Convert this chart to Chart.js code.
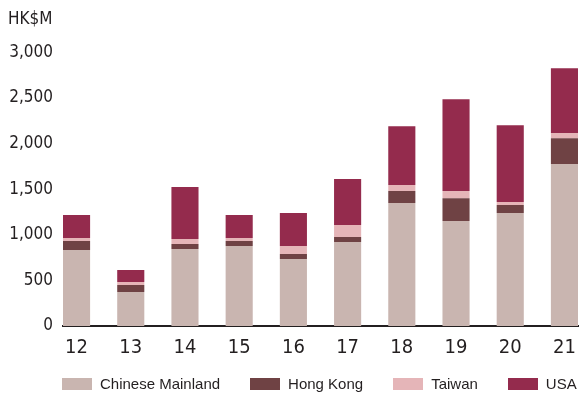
<!DOCTYPE html>
<html>
<head>
<meta charset="utf-8">
<script src="https://cdn.jsdelivr.net/npm/chart.js@4.4.1/dist/chart.umd.min.js"></script>
<style>
  html, body { margin: 0; padding: 0; background: #ffffff; }
  #wrap { position: relative; width: 579px; height: 395px; overflow: hidden; }
  #legend {
    position: absolute; left: 62px; top: 375px;
    display: flex; align-items: center; gap: 30px;
    font-family: 'Liberation Sans', Arial, sans-serif;
    font-size: 15px; line-height: 18px; color: #231f20; white-space: nowrap;
  }
  .item { display: flex; align-items: center; }
  .box { width: 30px; height: 12px; margin-right: 8px; }
</style>
</head>
<body>
<div id="wrap">
  <canvas id="c" width="579" height="395"></canvas>
  <div id="legend"></div>
</div>
<script>
// ---- data ----
const years = ['12', '13', '14', '15', '16', '17', '18', '19', '20', '21'];
const seriesNames = ['Chinese Mainland', 'Hong Kong', 'Taiwan', 'USA'];
const chineseMainland = [833, 373, 844, 877, 734, 920, 1348, 1150, 1238, 1775];
const hongKong        = [98,  76,  54,  54,  55,  55,  131,  252,  88,   285];
const taiwan          = [33,  33,  55,  33,  88,  132, 66,   77,   33,   55];
const usa             = [252, 131, 570, 252, 361, 504, 646,  1008, 843,  712];
const yTickValues = [0, 500, 1000, 1500, 2000, 2500, 3000];
const unitLabel = 'HK$M';

// ---- styles ----
const seriesColors = ['#c9b5b0', '#6f4244', '#e5b5b8', '#942b4d'];
const textColor = '#231f20';
const numFont = "'DejaVu Sans Condensed', 'DejaVu Sans', sans-serif";

const seriesValues = [chineseMainland, hongKong, taiwan, usa];
const datasets = seriesValues.map((vals, i) => ({
  label: seriesNames[i],
  data: vals.map((v, j) => ({ x: j, y: v })),
  backgroundColor: seriesColors[i],
  borderWidth: 0,
  categoryPercentage: 1,
  barPercentage: 0.5
}));

const chart = new Chart(document.getElementById('c'), {
  type: 'bar',
  data: { datasets },
  options: {
    responsive: false,
    animation: false,
    devicePixelRatio: 1,
    layout: { padding: { left: 8, right: 1, top: 0, bottom: 35 } },
    plugins: {
      legend: { display: false },
      tooltip: { enabled: false },
      title: {
        display: true,
        text: unitLabel,
        align: 'start',
        color: textColor,
        font: { family: numFont, size: 17, weight: 'normal' },
        padding: { top: 9, bottom: 23 }
      }
    },
    scales: {
      x: {
        type: 'linear',
        min: -0.25,
        max: years.length - 0.75,
        stacked: true,
        offset: false,
        grid: { display: false, drawTicks: true, tickLength: 10 },
        border: { display: true, color: textColor, width: 2 },
        ticks: {
          stepSize: 1,
          includeBounds: false,
          autoSkip: false,
          maxRotation: 0,
          padding: 0,
          color: textColor,
          font: { family: numFont, size: 20 },
          callback: (v) => Number.isInteger(v) && years[v] !== undefined ? years[v] : ''
        }
      },
      y: {
        min: yTickValues[0],
        max: yTickValues[yTickValues.length - 1],
        stacked: true,
        grid: { display: false, drawTicks: false },
        border: { display: false },
        afterFit: (s) => { s.width = 55; },
        afterBuildTicks: (s) => { s.ticks = yTickValues.map(v => ({ value: v })); },
        ticks: {
          padding: 10,
          color: textColor,
          font: { family: numFont, size: 17 },
          callback: (v) => v.toLocaleString('en-US')
        }
      }
    }
  }
});

// HTML legend built from the chart's datasets
const legendEl = document.getElementById('legend');
chart.data.datasets.forEach(ds => {
  const item = document.createElement('div');
  item.className = 'item';
  const box = document.createElement('span');
  box.className = 'box';
  box.style.background = ds.backgroundColor;
  const label = document.createElement('span');
  label.textContent = ds.label;
  item.appendChild(box);
  item.appendChild(label);
  legendEl.appendChild(item);
});
</script>
</body>
</html>
